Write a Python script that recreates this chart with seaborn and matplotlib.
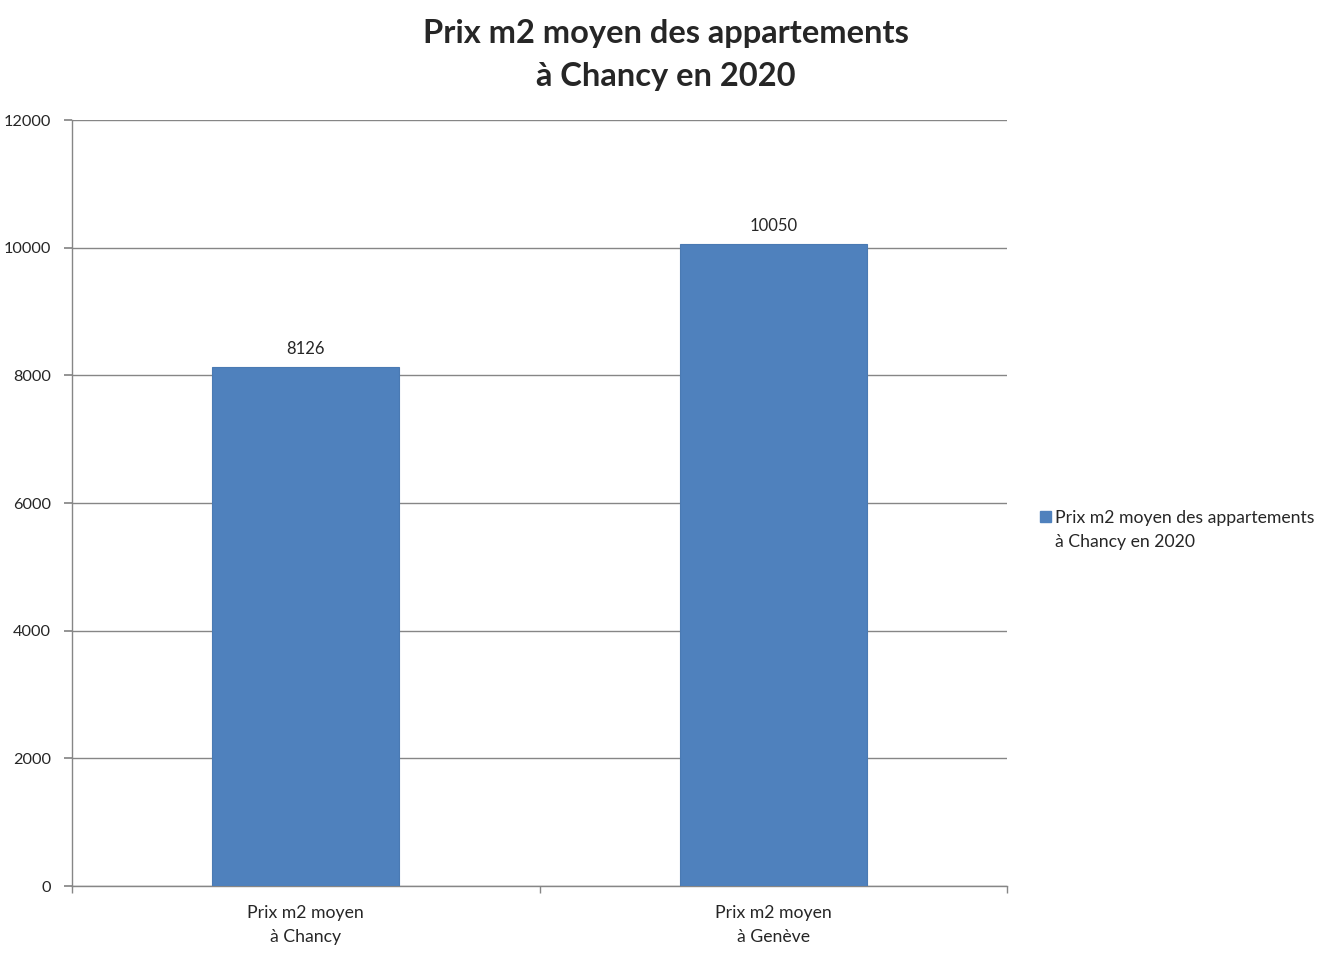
import matplotlib
matplotlib.use("Agg")
import matplotlib.pyplot as plt
import seaborn as sns
import pandas as pd
from matplotlib.patches import Patch

categories = ["Prix m2 moyen\nà Chancy", "Prix m2 moyen\nà Genève"]
values = [8126, 10050]
series_lines = ["Prix m2 moyen des appartements", "à Chancy en 2020"]
title = "Prix m2 moyen des appartements\nà Chancy en 2020"
yticks = [0, 2000, 4000, 6000, 8000, 10000, 12000]

sns.set_theme(style="white")
plt.rcParams['font.family'] = ['Lato', 'DejaVu Sans']

df = pd.DataFrame({"cat": categories, "val": values})

fig = plt.figure(figsize=(13.38, 9.61), dpi=100)
ax = fig.add_axes([72/1338, 1 - 886/961, (1007-72)/1338, (886-120)/961])

sns.barplot(data=df, x="cat", y="val", color="#4F81BD", width=0.4, ax=ax,
            saturation=1, edgecolor="#4A7AB3", linewidth=0.8, zorder=3)

ax.set_xlim(-0.5, 1.5)
ax.set_ylim(0, 12000)
ax.set_yticks(yticks)
ax.set_yticklabels([str(t) for t in yticks], fontsize=11.7)
ax.yaxis.grid(True, color="#868686", linewidth=1)
ax.set_axisbelow(True)
ax.set_xlabel("")
ax.set_ylabel("")

ax.set_xticks([0, 1])
ax.set_xticklabels(categories, fontsize=12.7, linespacing=1.55)
ax.tick_params(axis='x', length=0, pad=14)
ax.set_xticks([-0.5, 0.5, 1.5], minor=True)
ax.tick_params(axis='x', which='minor', length=5, color="#868686", direction='out', bottom=True)
ax.tick_params(axis='y', length=6, color="#868686", direction='out', left=True, pad=9)

for s in ["top", "right"]:
    ax.spines[s].set_visible(False)
for s in ["left", "bottom"]:
    ax.spines[s].set_color("#868686")
    ax.spines[s].set_linewidth(1)

for i, v in enumerate(values):
    ax.text(i, v + 160, str(v), ha="center", va="bottom", fontsize=12)

fig.text(666/1338, 1 - 55/961, title, ha="center", va="center", fontsize=23.5,
         fontweight="bold", linespacing=1.62)

handles = [Patch(facecolor="#4F81BD", edgecolor="#4F81BD"),
           Patch(facecolor="none", edgecolor="none")]
fig.legend(handles=handles, labels=series_lines, loc="center left",
           bbox_to_anchor=(1033/1338, 1 - 530/961), frameon=False,
           fontsize=12.7, handlelength=0.6, handleheight=0.6, handletextpad=0.25,
           labelspacing=0.5, borderaxespad=0)

fig.savefig("out.png", dpi=100, facecolor="white")
